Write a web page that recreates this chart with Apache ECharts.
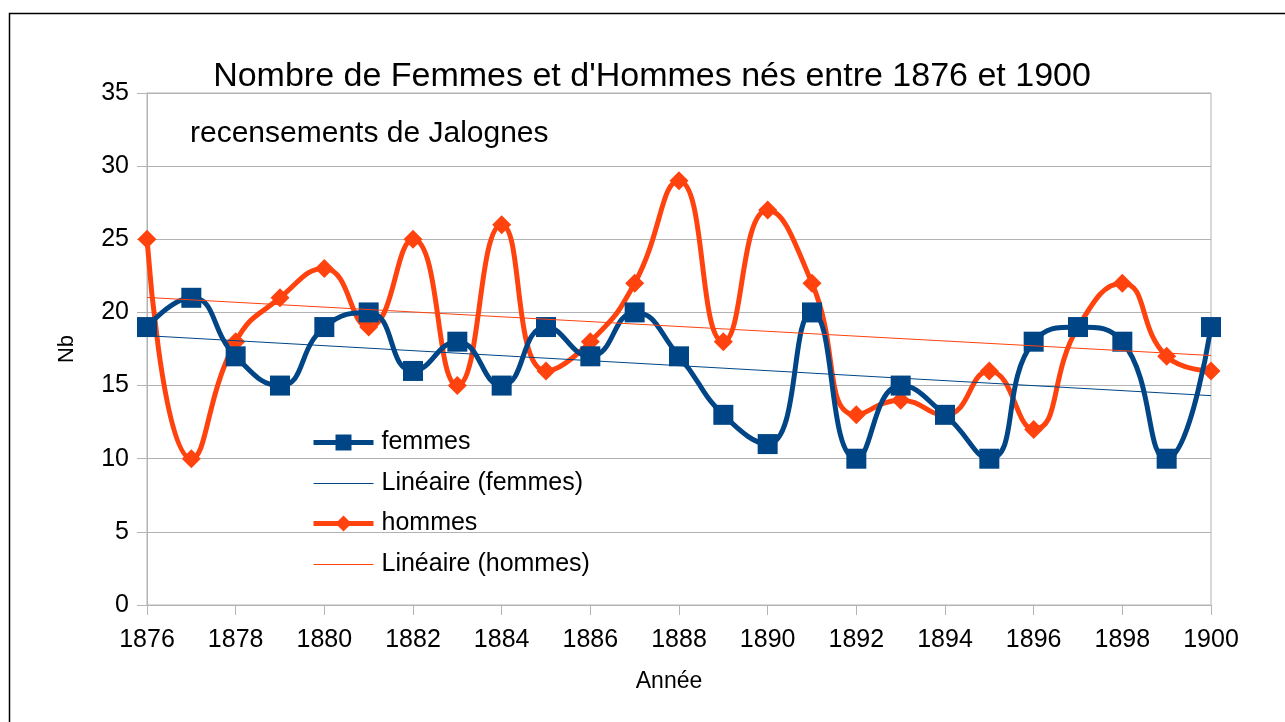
<!DOCTYPE html>
<html>
<head>
<meta charset="utf-8">
<title>Nombre de Femmes et d'Hommes nés entre 1876 et 1900</title>
<script src="https://cdn.jsdelivr.net/npm/echarts@6/dist/echarts.min.js"></script>
<style>
  html, body { margin: 0; padding: 0; background: #fff; }
  #chart { width: 1285px; height: 722px; }
</style>
</head>
<body>
<div id="chart"></div>
<script>
// Années de naissance (recensements de Jalognes)
const annees = [1876, 1877, 1878, 1879, 1880, 1881, 1882, 1883, 1884, 1885, 1886, 1887, 1888,
                1889, 1890, 1891, 1892, 1893, 1894, 1895, 1896, 1897, 1898, 1899, 1900];
const femmes = [19, 21, 17, 15, 19, 20, 16, 18, 15, 19, 17, 20, 17, 13, 11, 20, 10, 15, 13, 10, 18, 19, 18, 10, 19];
const hommes = [25, 10, 18, 21, 23, 19, 25, 15, 26, 16, 18, 22, 29, 18, 27, 22, 13, 14, 13, 16, 12, 19, 22, 17, 16];
const yTicks = [0, 5, 10, 15, 20, 25, 30, 35];

const FONT = 'Liberation Sans, Arial, sans-serif';
const BLEU = '#004586';
const ORANGE = '#ff420e';
const GRIS = '#b3b3b3';

// Droite de régression linéaire (moindres carrés) sur l'intervalle des années
function tendance(xs, ys) {
  const n = xs.length;
  const mx = xs.reduce((a, b) => a + b, 0) / n;
  const my = ys.reduce((a, b) => a + b, 0) / n;
  let sxy = 0, sxx = 0;
  for (let i = 0; i < n; i++) {
    sxy += (xs[i] - mx) * (ys[i] - my);
    sxx += (xs[i] - mx) * (xs[i] - mx);
  }
  const pente = sxy / sxx;
  const x0 = xs[0], x1 = xs[n - 1];
  return [[x0, my + pente * (x0 - mx)], [x1, my + pente * (x1 - mx)]];
}

const paires = (ys) => annees.map((a, i) => [a, ys[i]]);

// Icône de légende des droites de tendance : un trait fin horizontal
const TRAIT_FIN = 'path://M0,0 H60 V1 H0 Z';
const entreeTendance = (nom, couleur) => ({
  name: nom,
  icon: TRAIT_FIN,
  itemStyle: { color: couleur, borderWidth: 0, opacity: 1 }
});

// Réglages communs aux deux blocs de légende
const legendeBase = {
  orient: 'vertical',
  left: 306,
  itemWidth: 60, itemHeight: 20, itemGap: 16,
  textStyle: { fontFamily: FONT, fontSize: 25, color: '#000', padding: [0, 0, 0, 3] }
};

const chart = echarts.init(document.getElementById('chart'), null, { renderer: 'canvas' });

chart.setOption({
  animation: false,
  backgroundColor: '#fff',
  textStyle: { fontFamily: FONT, color: '#000' },
  graphic: [{
    type: 'rect',
    shape: { x: 9.5, y: 13.5, width: 1300, height: 730 },
    style: { fill: 'none', stroke: '#000', lineWidth: 1.5 },
    silent: true, z: -1
  }],
  title: [{
    text: "Nombre de Femmes et d'Hommes nés entre 1876 et 1900",
    left: 647, top: 55, textAlign: 'center',
    textStyle: { fontFamily: FONT, fontSize: 34, fontWeight: 'normal', color: '#000' }
  }, {
    text: 'recensements de Jalognes',
    left: 185, top: 114,
    textStyle: { fontFamily: FONT, fontSize: 30, fontWeight: 'normal', color: '#000' }
  }],
  legend: [
    Object.assign({}, legendeBase, {
      top: 425,
      data: [
        { name: 'femmes', lineStyle: { width: 5 } },
        entreeTendance('Linéaire (femmes)', BLEU)
      ]
    }),
    Object.assign({}, legendeBase, {
      top: 506,
      data: [
        { name: 'hommes', lineStyle: { width: 5 } },
        entreeTendance('Linéaire (hommes)', ORANGE)
      ]
    })
  ],
  grid: {
    left: 147, right: 74, top: 93, bottom: 117,
    show: true, borderColor: GRIS, borderWidth: 1, backgroundColor: 'transparent'
  },
  xAxis: {
    type: 'value',
    min: 1876, max: 1900, interval: 2,
    name: 'Année', nameLocation: 'middle', nameGap: 65,
    nameTextStyle: { fontFamily: FONT, fontSize: 23, color: '#000', padding: [0, 20, 0, 0] },
    axisLine: { show: true, lineStyle: { color: GRIS, width: 1 } },
    axisTick: { show: true, length: 10, lineStyle: { color: GRIS } },
    axisLabel: { fontFamily: FONT, fontSize: 25, color: '#000', margin: 23, formatter: (v) => String(v) },
    splitLine: { show: false }
  },
  yAxis: {
    type: 'value',
    min: 0, max: 35, interval: 5,
    name: 'Nb', nameLocation: 'middle', nameGap: 69,
    nameTextStyle: { fontFamily: FONT, fontSize: 22, color: '#000' },
    axisLine: { show: true, lineStyle: { color: GRIS, width: 1 } },
    axisTick: { show: true, length: 10, lineStyle: { color: GRIS } },
    axisLabel: {
      fontFamily: FONT, fontSize: 25, color: '#000', margin: 18,
      formatter: (v) => (yTicks.includes(v) ? String(v) : '')
    },
    splitLine: { show: true, lineStyle: { color: GRIS, width: 1 } }
  },
  series: [{
    name: 'femmes',
    type: 'line',
    data: paires(femmes),
    smooth: 0.5,
    symbol: 'rect', symbolSize: 20,
    lineStyle: { color: BLEU, width: 5 },
    itemStyle: { color: BLEU },
    z: 3
  }, {
    name: 'Linéaire (femmes)',
    type: 'line',
    data: tendance(annees, femmes),
    symbol: 'none',
    lineStyle: { color: BLEU, width: 1 },
    itemStyle: { color: BLEU },
    z: 4
  }, {
    name: 'hommes',
    type: 'line',
    data: paires(hommes),
    smooth: 0.5,
    symbol: 'diamond', symbolSize: 19,
    lineStyle: { color: ORANGE, width: 5 },
    itemStyle: { color: ORANGE },
    z: 2
  }, {
    name: 'Linéaire (hommes)',
    type: 'line',
    data: tendance(annees, hommes),
    symbol: 'none',
    lineStyle: { color: ORANGE, width: 1 },
    itemStyle: { color: ORANGE },
    z: 4
  }]
});
</script>
</body>
</html>
